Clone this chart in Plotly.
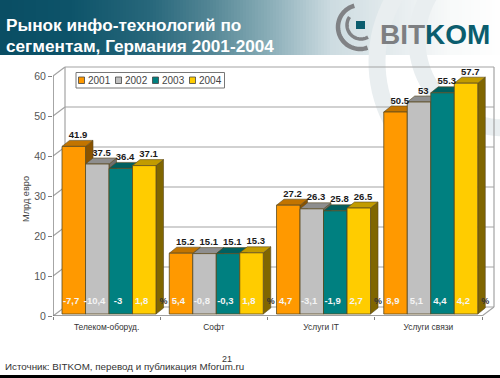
import numpy as np
import plotly.graph_objects as go

W, H = 500, 378
categories = ["Телеком-оборуд.", "Софт", "Услуги IT", "Услуги связи"]
years = ["2001", "2002", "2003", "2004"]
values_2001 = [41.9, 15.2, 27.2, 50.5]
values_2002 = [37.5, 15.1, 26.3, 53]
values_2003 = [36.4, 15.1, 25.8, 55.3]
values_2004 = [37.1, 15.3, 26.5, 57.7]
growth_2001 = ["-7,7", "5,4", "4,7", "8,9"]
growth_2002 = ["-10,4", "-0,8", "-3,1", "5,1"]
growth_2003 = ["-3", "-0,3", "-1,9", "4,4"]
growth_2004 = ["1,8", "1,8", "2,7", "4,2"]
y_ticks = [0, 10, 20, 30, 40, 50, 60]

series_values = [values_2001, values_2002, values_2003, values_2004]
series_growth = [growth_2001, growth_2002, growth_2003, growth_2004]
front = ["#FF9900", "#C0C0C0", "#008080", "#FFCC00"]
top = ["#C27400", "#8E8E8E", "#005F5F", "#C29B00"]
side = ["#8A5300", "#6E6E6E", "#004848", "#806600"]
edge = "#5A4A20"
FONT = "Liberation Sans"

# pixel geometry of the plotting box
X0, X4, Y0, Y60 = 53, 482, 316, 76
cat_px = (X4 - X0) / 4
unit_px = (Y0 - Y60) / 60
x_max = (W - X0) / cat_px
y_max = (Y0 - 58) / unit_px
wall_dx, wall_dy = 12 / cat_px, 9 / unit_px
bar_dx, bar_dy = 7.5 / cat_px, 6 / unit_px
bar_w = 23.5 / cat_px
lift = 0.5
bar_shift = 2.4 / cat_px


def px(x):
    return x / W


def py(y):
    return 1 - y / H


def poly(points, fill, line=None, lw=0.6, layer="below", ref="x"):
    d = "M" + " L".join(f"{a:.5f},{b:.5f}" for a, b in points) + " Z"
    return dict(type="path", path=d, fillcolor=fill, layer=layer,
                xref=ref, yref="y" if ref == "x" else "paper",
                line=dict(color=line or fill, width=lw if line else 0))


def seg(x1, y1, x2, y2, color="#A3A3A3", w=1.2):
    return dict(type="line", x0=x1, y0=y1, x1=x2, y1=y2, xref="x", yref="y",
                layer="below", line=dict(color=color, width=w))


shapes = []

# header gradient
stops_x = [0, 70, 150, 210, 270, 330, 400, 450, 500]
stops_c = [(10, 78, 100), (14, 84, 106), (40, 104, 124), (85, 135, 150),
           (140, 175, 185), (205, 220, 225), (232, 238, 240), (248, 250, 250), (255, 255, 255)]
for xp in range(0, W, 3):
    c = [int(np.interp(xp, stops_x, [s[k] for s in stops_c])) for k in range(3)]
    shapes.append(dict(type="rect", xref="paper", yref="paper", x0=px(xp), x1=px(xp + 3.6),
                       y0=py(55), y1=1, layer="below", fillcolor=f"rgb({c[0]},{c[1]},{c[2]})",
                       line=dict(width=0)))


def arc(cx, cy, r, a0, a1, n=40):
    t = np.radians(np.linspace(a0, a1, n))
    return [(cx + r * np.cos(q), cy + r * np.sin(q)) for q in t]


def stroke(points, color, width):
    d = "M" + " L".join(f"{px(a):.5f},{py(b):.5f}" for a, b in points)
    return dict(type="path", path=d, xref="paper", yref="paper", layer="below",
                line=dict(color=color, width=width))


# watermark arcs
shapes.append(stroke(arc(505, 62, 128, 115, 250), "#E9EEF0", 17))
shapes.append(stroke(arc(505, 40, 88, 90, 225), "#E9EEF0", 17))

# logo
shapes.append(stroke(arc(360, 27, 22, 70, 255), "#808285", 4.5))
shapes.append(stroke(arc(361, 25, 14, 60, 215), "#808285", 3.5))
shapes.append(dict(type="rect", xref="paper", yref="paper", x0=px(356), x1=px(365), y0=py(29),
                   y1=py(21), layer="above", fillcolor="#0B5D6E", line=dict(width=0)))

# bottom strip
shapes.append(dict(type="rect", xref="paper", yref="paper", x0=0, x1=1, y0=0, y1=py(375),
                   layer="above", fillcolor="#000000", line=dict(width=0)))

# walls, floor and gridlines of the box
for v in y_ticks[1:]:
    shapes.append(seg(0, v, wall_dx, v + wall_dy))
    shapes.append(seg(wall_dx, v + wall_dy, 4 + wall_dx, v + wall_dy))
shapes.append(seg(wall_dx, wall_dy, wall_dx, 60 + wall_dy))
shapes.append(seg(4 + wall_dx, wall_dy, 4 + wall_dx, 60 + wall_dy))
shapes.append(seg(0, 0, wall_dx, wall_dy))
shapes.append(seg(4, 0, 4 + wall_dx, wall_dy))
shapes.append(seg(wall_dx, wall_dy, 4 + wall_dx, wall_dy))
shapes.append(seg(0, 0, 0, 60, "#808080", 1.4))
shapes.append(seg(0, 0, 4, 0, "#808080", 1.4))

fig = go.Figure()

# bars and their 3D faces
for s, (vals, grow) in enumerate(zip(series_values, series_growth)):
    xs = [i + 0.5 + bar_shift + (s - 1.5) * bar_w for i in range(4)]
    for xc, v in zip(xs, vals):
        l, r, t, b = xc - bar_w / 2, xc + bar_w / 2, v + lift, lift
        shapes.append(poly([(r, b), (r + bar_dx, b + bar_dy), (r + bar_dx, t + bar_dy), (r, t)],
                           side[s], edge))
        shapes.append(poly([(l, t), (l + bar_dx, t + bar_dy), (r + bar_dx, t + bar_dy), (r, t)],
                           top[s], edge))
    fig.add_trace(go.Bar(x=xs, y=vals, base=lift, width=bar_w, name=years[s], showlegend=False,
                         marker=dict(color=front[s], line=dict(color=edge, width=0.8)),
                         hoverinfo="skip"))

for s, (vals, grow) in enumerate(zip(series_values, series_growth)):
    xs = [i + 0.5 + bar_shift + (s - 1.5) * bar_w for i in range(4)]
    fig.add_trace(go.Scatter(x=[a + 0.04 for a in xs], y=[v + lift + bar_dy for v in vals],
                             mode="text", text=[str(v) for v in vals], textposition="top center",
                             cliponaxis=False, showlegend=False, hoverinfo="skip",
                             textfont=dict(family=FONT, size=9.5, color="#1A1A1A", weight="bold")))
    fig.add_trace(go.Scatter(x=[a - 0.025 for a in xs], y=[3.5] * 4, mode="text", text=grow,
                             textposition="middle center", showlegend=False, hoverinfo="skip",
                             textfont=dict(family=FONT, size=9.5, color="#F4F4F4", weight="bold")))

fig.add_trace(go.Scatter(x=[1.03, 2.03, 3.03, 4.03], y=[3.5] * 4, mode="text", text=["%"] * 4,
                         textposition="middle center", showlegend=False, hoverinfo="skip",
                         textfont=dict(family=FONT, size=9, color="#333333", weight="bold")))

annotations = []


def text(x, y, s, size, color, anchor="left", bold=False, angle=0):
    annotations.append(dict(x=px(x), y=py(y), xref="paper", yref="paper", text=s, showarrow=False,
                            xanchor=anchor, yanchor="middle", textangle=angle,
                            borderpad=0, align="left",
                            font=dict(family=FONT, size=size, color=color,
                                      weight="bold" if bold else "normal")))


text(5, 25, "Рынок инфо-технологий по", 17.2, "#FFFFFF", bold=True)
text(5, 46, "сегментам, Германия 2001-2004", 17.2, "#FFFFFF", bold=True)
text(379, 35, '<span style="color:#7D7F82">BIT</span><span style="color:#0B5D6E">KOM</span>',
     28, "#0B5D6E", bold=True)
text(26, 199, "Млрд евро", 9.2, "#444444", anchor="center", angle=-90)
text(4, 366.5, "Источник: BITKOM, перевод и публикация Mforum.ru", 9.8, "#333333")
text(227, 358.5, "21", 9, "#333333", anchor="center")

# legend box
shapes.append(dict(type="rect", xref="paper", yref="paper", x0=px(76), x1=px(224.5), y0=py(88),
                   y1=py(72.5), layer="above", fillcolor="rgba(255,255,255,0.9)",
                   line=dict(color="#777777", width=1)))
for k, yr in enumerate(years):
    left = 78.5 + k * 37
    shapes.append(dict(type="rect", xref="paper", yref="paper", x0=px(left), x1=px(left + 6),
                       y0=py(83.5), y1=py(77), layer="above", fillcolor=front[k],
                       line=dict(color="#444444", width=0.8)))
    text(left + 8, 80.3, yr, 10, "#444444")

fig.update_layout(
    width=W, height=H, margin=dict(l=0, r=0, t=0, b=0, autoexpand=False), paper_bgcolor="#FFFFFF",
    plot_bgcolor="rgba(0,0,0,0)", barmode="overlay", showlegend=False, shapes=shapes,
    annotations=annotations,
    font=dict(family=FONT),
    xaxis=dict(domain=[px(X0), 1], range=[0, x_max], showgrid=False, zeroline=False, showline=False,
               automargin=False,
               tickmode="array", tickvals=[0.5, 1.5, 2.5, 3.5], ticktext=categories,
               ticks="outside", ticklen=3, tickcolor="rgba(0,0,0,0)",
               tickfont=dict(family=FONT, size=8.4, color="#333333"),
               minor=dict(tickmode="array", tickvals=[0, 1, 2, 3, 4], ticks="outside", ticklen=3,
                          tickcolor="#808080", tickwidth=1, showgrid=False)),
    yaxis=dict(domain=[py(Y0), py(58)], range=[0, y_max], showgrid=False, zeroline=False,
               automargin=False,
               showline=False, tickmode="array", tickvals=y_ticks, ticks="outside", ticklen=4,
               tickcolor="#808080", tickfont=dict(family=FONT, size=10.5, color="#555555")),
)
fig.write_html("out.html", config={"displayModeBar": False},
               post_script="document.body.style.margin='0';")
